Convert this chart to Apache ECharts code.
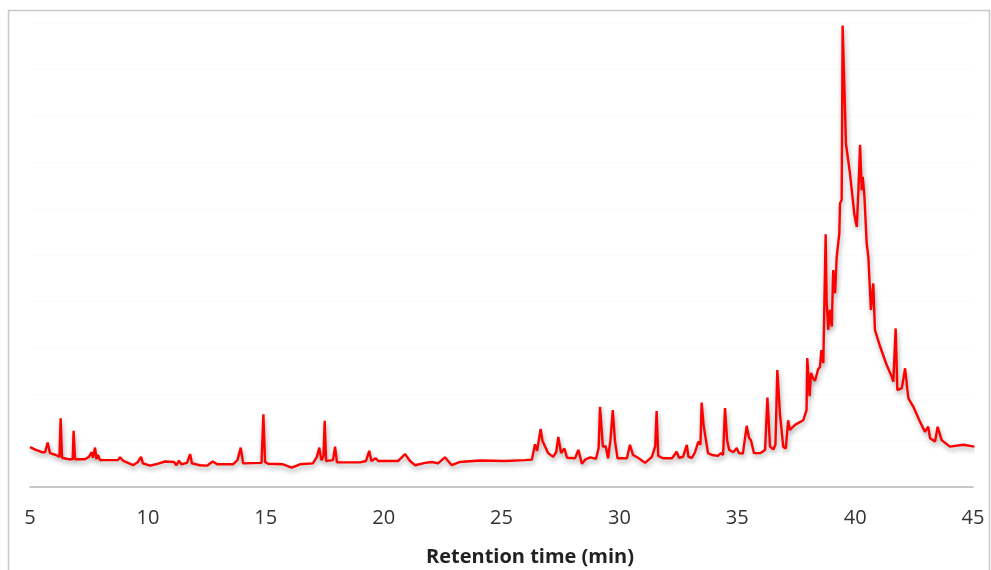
<!DOCTYPE html>
<html>
<head>
<meta charset="utf-8">
<script src="https://cdn.jsdelivr.net/npm/echarts@6/dist/echarts.min.js"></script>
<style>
  html, body { margin: 0; padding: 0; background: #ffffff; }
  #chart { width: 991px; height: 570px; }
</style>
</head>
<body>
<div id="chart"></div>
<script>
// Chromatogram trace: retention time (min) and relative detector response
const retentionTime = [
  5.00, 5.25, 5.51, 5.64, 5.75, 5.85, 6.10, 6.25, 6.30, 6.36, 6.61, 6.81, 6.85, 6.91,
  7.33, 7.50, 7.62, 7.67, 7.76, 7.82, 7.88, 7.97, 8.73, 8.82, 8.94, 9.37, 9.58, 9.71,
  9.79, 10.09, 10.34, 10.73, 11.11, 11.21, 11.32, 11.42, 11.66, 11.79, 11.87, 12.21,
  12.51, 12.75, 12.94, 13.61, 13.80, 13.94, 14.04, 14.82, 14.90, 14.97, 15.10, 15.73,
  16.10, 16.45, 17.00, 17.17, 17.27, 17.36, 17.45, 17.50, 17.56, 17.85, 17.94, 18.02,
  19.00, 19.25, 19.39, 19.48, 19.66, 19.78, 20.61, 20.91, 21.12, 21.33, 21.76, 22.05,
  22.31, 22.60, 22.89, 23.24, 24.09, 25.15, 26.00, 26.29, 26.42, 26.51, 26.66, 26.74,
  26.80, 26.98, 27.19, 27.32, 27.41, 27.53, 27.67, 27.78, 28.12, 28.26, 28.41, 28.55,
  28.76, 29.01, 29.12, 29.18, 29.30, 29.42, 29.52, 29.62, 29.72, 29.81, 29.92, 30.32,
  30.45, 30.58, 30.79, 31.09, 31.38, 31.52, 31.58, 31.65, 31.85, 32.23, 32.43, 32.53,
  32.70, 32.86, 32.93, 33.08, 33.21, 33.35, 33.44, 33.49, 33.57, 33.63, 33.76, 33.93,
  34.18, 34.31, 34.40, 34.48, 34.57, 34.66, 34.83, 34.98, 35.07, 35.24, 35.40, 35.50,
  35.58, 35.71, 35.97, 36.18, 36.28, 36.39, 36.53, 36.62, 36.70, 36.81, 36.95, 37.06,
  37.16, 37.23, 37.45, 37.80, 37.94, 37.97, 38.07, 38.13, 38.21, 38.30, 38.43, 38.51,
  38.57, 38.65, 38.75, 38.79, 38.86, 38.93, 39.01, 39.07, 39.15, 39.22, 39.33, 39.36,
  39.43, 39.47, 39.61, 39.78, 39.97, 40.07, 40.14, 40.21, 40.28, 40.32, 40.39, 40.49,
  40.56, 40.67, 40.77, 40.84, 41.06, 41.34, 41.55, 41.62, 41.72, 41.79, 41.98, 42.12,
  42.21, 42.26, 42.47, 42.75, 42.96, 43.10, 43.18, 43.39, 43.50, 43.67, 44.02, 44.59,
  45.06
];

const intensity = [
  8.6, 8.0, 7.5, 7.5, 9.6, 7.3, 6.9, 6.5, 14.8, 6.3, 6.0, 6.0, 12.1, 6.0,
  6.0, 6.5, 7.5, 6.3, 8.5, 6.0, 6.9, 5.8, 5.8, 6.4, 5.7, 4.7, 5.4, 6.5,
  5.1, 4.6, 4.9, 5.5, 5.4, 4.7, 5.7, 4.9, 5.2, 7.1, 5.1, 4.7,
  4.6, 5.5, 4.9, 4.9, 5.8, 8.5, 5.1, 5.2, 15.7, 5.4, 5.0, 4.9,
  4.2, 4.9, 5.1, 6.5, 8.5, 5.8, 6.7, 14.3, 5.6, 5.8, 8.7, 5.3,
  5.3, 5.6, 7.8, 5.6, 6.2, 5.6, 5.6, 7.1, 5.6, 4.7, 5.2, 5.4,
  5.1, 6.4, 4.7, 5.4, 5.7, 5.6, 5.8, 5.9, 9.2, 7.8, 12.5, 9.9,
  10.1, 7.3, 6.5, 7.5, 10.8, 7.3, 8.3, 6.3, 6.2, 8.0, 5.0, 5.9,
  6.4, 6.1, 8.4, 17.3, 8.7, 8.8, 6.2, 10.1, 16.6, 10.1, 6.2, 6.2,
  9.1, 6.9, 6.3, 5.2, 6.5, 8.8, 16.4, 6.7, 6.2, 6.2, 7.6, 6.3,
  6.5, 9.1, 6.5, 6.3, 7.5, 9.8, 9.1, 18.2, 13.4, 13.4, 7.3, 6.9,
  6.7, 7.3, 6.9, 17.0, 10.1, 8.0, 7.5, 8.4, 7.3, 7.2, 13.2, 10.6,
  10.1, 7.3, 7.3, 8.0, 19.3, 8.7, 8.1, 9.1, 25.2, 15.9, 8.7, 8.3,
  14.4, 12.3, 13.4, 14.4, 16.6, 27.8, 19.6, 24.6, 23.5, 22.9, 25.4, 25.9,
  29.5, 26.7, 54.5, 40.3, 33.9, 38.2, 34.6, 46.8, 41.8, 49.7, 54.7, 61.2,
  61.9, 99.5, 74.1, 67.7, 58.7, 56.1, 64.0, 73.8, 64.0, 66.9, 63.0, 52.6,
  49.7, 38.2, 43.9, 33.9, 30.3, 26.3, 23.8, 22.7, 34.2, 20.9, 21.3, 25.6,
  21.3, 19.1, 17.3, 14.1, 11.9, 13.0, 10.5, 9.8, 13.0, 10.1, 8.7, 9.1,
  8.7
];

const timeTicks = [5, 10, 15, 20, 25, 30, 35, 40, 45];
const axisTitle = 'Retention time (min)';

const trace = retentionTime.map((t, i) => [t, intensity[i]]);

const chart = echarts.init(document.getElementById('chart'), null, { renderer: 'canvas' });

chart.setOption({
  animation: false,
  backgroundColor: '#ffffff',
  grid: { left: 30, right: 18, top: 23.3, bottom: 83 },
  xAxis: {
    type: 'value',
    min: timeTicks[0],
    max: timeTicks[timeTicks.length - 1],
    interval: timeTicks[1] - timeTicks[0],
    axisLine: { show: true, lineStyle: { color: '#b4b4b4', width: 1.5 } },
    axisTick: { show: false },
    splitLine: { show: false },
    axisLabel: {
      margin: 21,
      color: '#333333',
      fontFamily: 'Open Sans',
      fontSize: 20
    }
  },
  yAxis: {
    type: 'value',
    min: 0,
    max: 100,
    interval: 10,
    axisLine: { show: false },
    axisTick: { show: false },
    axisLabel: { show: false },
    splitLine: { show: true, lineStyle: { color: '#fbfbfb', width: 1 } }
  },
  series: [{
    type: 'line',
    data: trace,
    symbol: 'none',
    smooth: false,
    clip: false,
    lineStyle: {
      color: '#ff0000',
      width: 2.4,
      shadowColor: 'rgba(0,0,0,0.35)',
      shadowBlur: 5,
      shadowOffsetX: 1,
      shadowOffsetY: 3
    }
  }],
  graphic: [
    {
      type: 'rect',
      silent: true,
      shape: { x: 8.5, y: 10.5, width: 981, height: 600 },
      style: { fill: 'none', stroke: '#c8c8c8', lineWidth: 1.5 }
    },
    {
      type: 'text',
      silent: true,
      x: 530,
      y: 557,
      style: {
        text: axisTitle,
        fill: '#222222',
        font: 'bold 20px "Open Sans"',
        textAlign: 'center',
        textVerticalAlign: 'middle'
      }
    }
  ]
});
</script>
</body>
</html>
